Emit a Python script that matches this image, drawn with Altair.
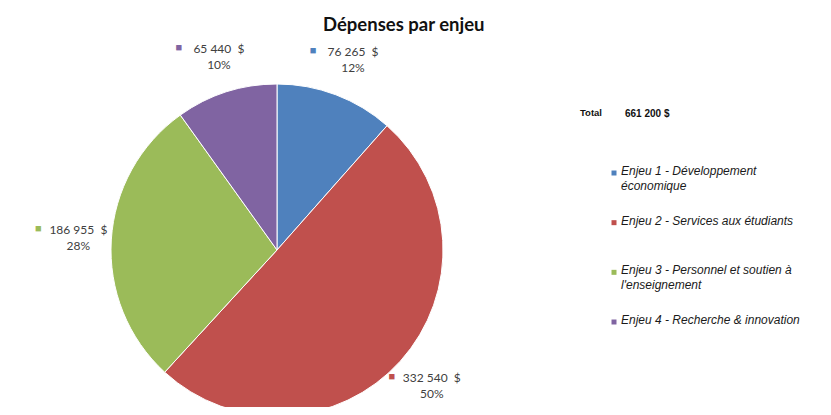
import altair as alt
import pandas as pd

categories = ["Enjeu 1", "Enjeu 2", "Enjeu 3", "Enjeu 4"]
values = [76265, 332540, 186955, 65440]
legend_labels = [
    "Enjeu 1 - Développement\néconomique",
    "Enjeu 2 - Services aux étudiants",
    "Enjeu 3 - Personnel et soutien à\nl'enseignement",
    "Enjeu 4 - Recherche & innovation",
]
colors = ["#4F81BD", "#C0504D", "#9BBB59", "#8064A2"]
title_text = "Dépenses par enjeu"

total = sum(values)
NB = "\u00a0"


def fmt(v):
    return f"{v:,}".replace(",", NB)


df = pd.DataFrame({
    "cat": categories,
    "value": values,
    "order": list(range(len(categories))),
    "vlabel": [fmt(v) + NB + NB + "$" for v in values],
    "plabel": [f"{round(v / total * 100)}%" for v in values],
    "legend": legend_labels,
})

CX, CY = 269, 242  # pie centre inside plot area
R = 166
LR = 203

color = alt.Color("cat:N", scale=alt.Scale(domain=categories, range=colors), legend=None)

base = alt.Chart(df).encode(
    theta=alt.Theta("value:Q", stack=True),
    order=alt.Order("order:Q"),
    color=color,
)

pie = base.mark_arc(outerRadius=R, stroke="white", strokeWidth=1).encode(
    x=alt.value(CX), y=alt.value(CY)
)

lbl_style = dict(font="Lato", fontSize=12, color="#404040")
vtext = base.mark_text(radius=LR, dy=-8, dx=4, **lbl_style).encode(
    x=alt.value(CX), y=alt.value(CY), text="vlabel:N", color=alt.value("#404040")
)
ptext = base.mark_text(radius=LR, dy=8, dx=4, **lbl_style).encode(
    x=alt.value(CX), y=alt.value(CY), text="plabel:N", color=alt.value("#404040")
)
sq = base.mark_text(radius=LR, dy=-9, dx=-36, fontSize=11).encode(
    x=alt.value(CX), y=alt.value(CY), text=alt.value("■")
)

leg_y = alt.Y("legend:N", sort=None, axis=None,
              scale=alt.Scale(type="point", range=[165, 314], padding=0))
leg = alt.Chart(df)
leg_sq = leg.mark_square(size=25, opacity=1).encode(
    x=alt.value(606), y=leg_y, color=color
)
leg_txt = leg.mark_text(align="left", baseline="top", dy=-7, lineBreak="\n",
                        font="Liberation Sans", fontStyle="italic", fontSize=12,
                        lineHeight=15, color="#1a1a1a").encode(
    x=alt.value(613), y=leg_y, text="legend:N"
)

tot_df = pd.DataFrame({"t": ["Total"], "v": [fmt(total) + " $"]})
tot1 = alt.Chart(tot_df).mark_text(align="left", baseline="middle", font="Liberation Sans",
                                  fontWeight="bold", fontSize=9.5, color="#111").encode(
    x=alt.value(572), y=alt.value(105), text="t:N")
tot2 = alt.Chart(tot_df).mark_text(align="left", baseline="middle", font="Liberation Sans",
                                  fontWeight="bold", fontSize=10, color="#111").encode(
    x=alt.value(617), y=alt.value(106), text="v:N")

chart = alt.layer(pie, sq, vtext, ptext, leg_sq, leg_txt, tot1, tot2).properties(
    width=815, height=399, padding=0,
    autosize=alt.AutoSizeParams(type="none"),
    title=alt.TitleParams(title_text, font="Lato", fontSize=18.5, fontWeight="bold",
                          color="#111", anchor="start", dx=315, offset=-26),
).configure_view(stroke=None)

chart.save("out.html", embed_options={"renderer": "svg", "actions": False})
